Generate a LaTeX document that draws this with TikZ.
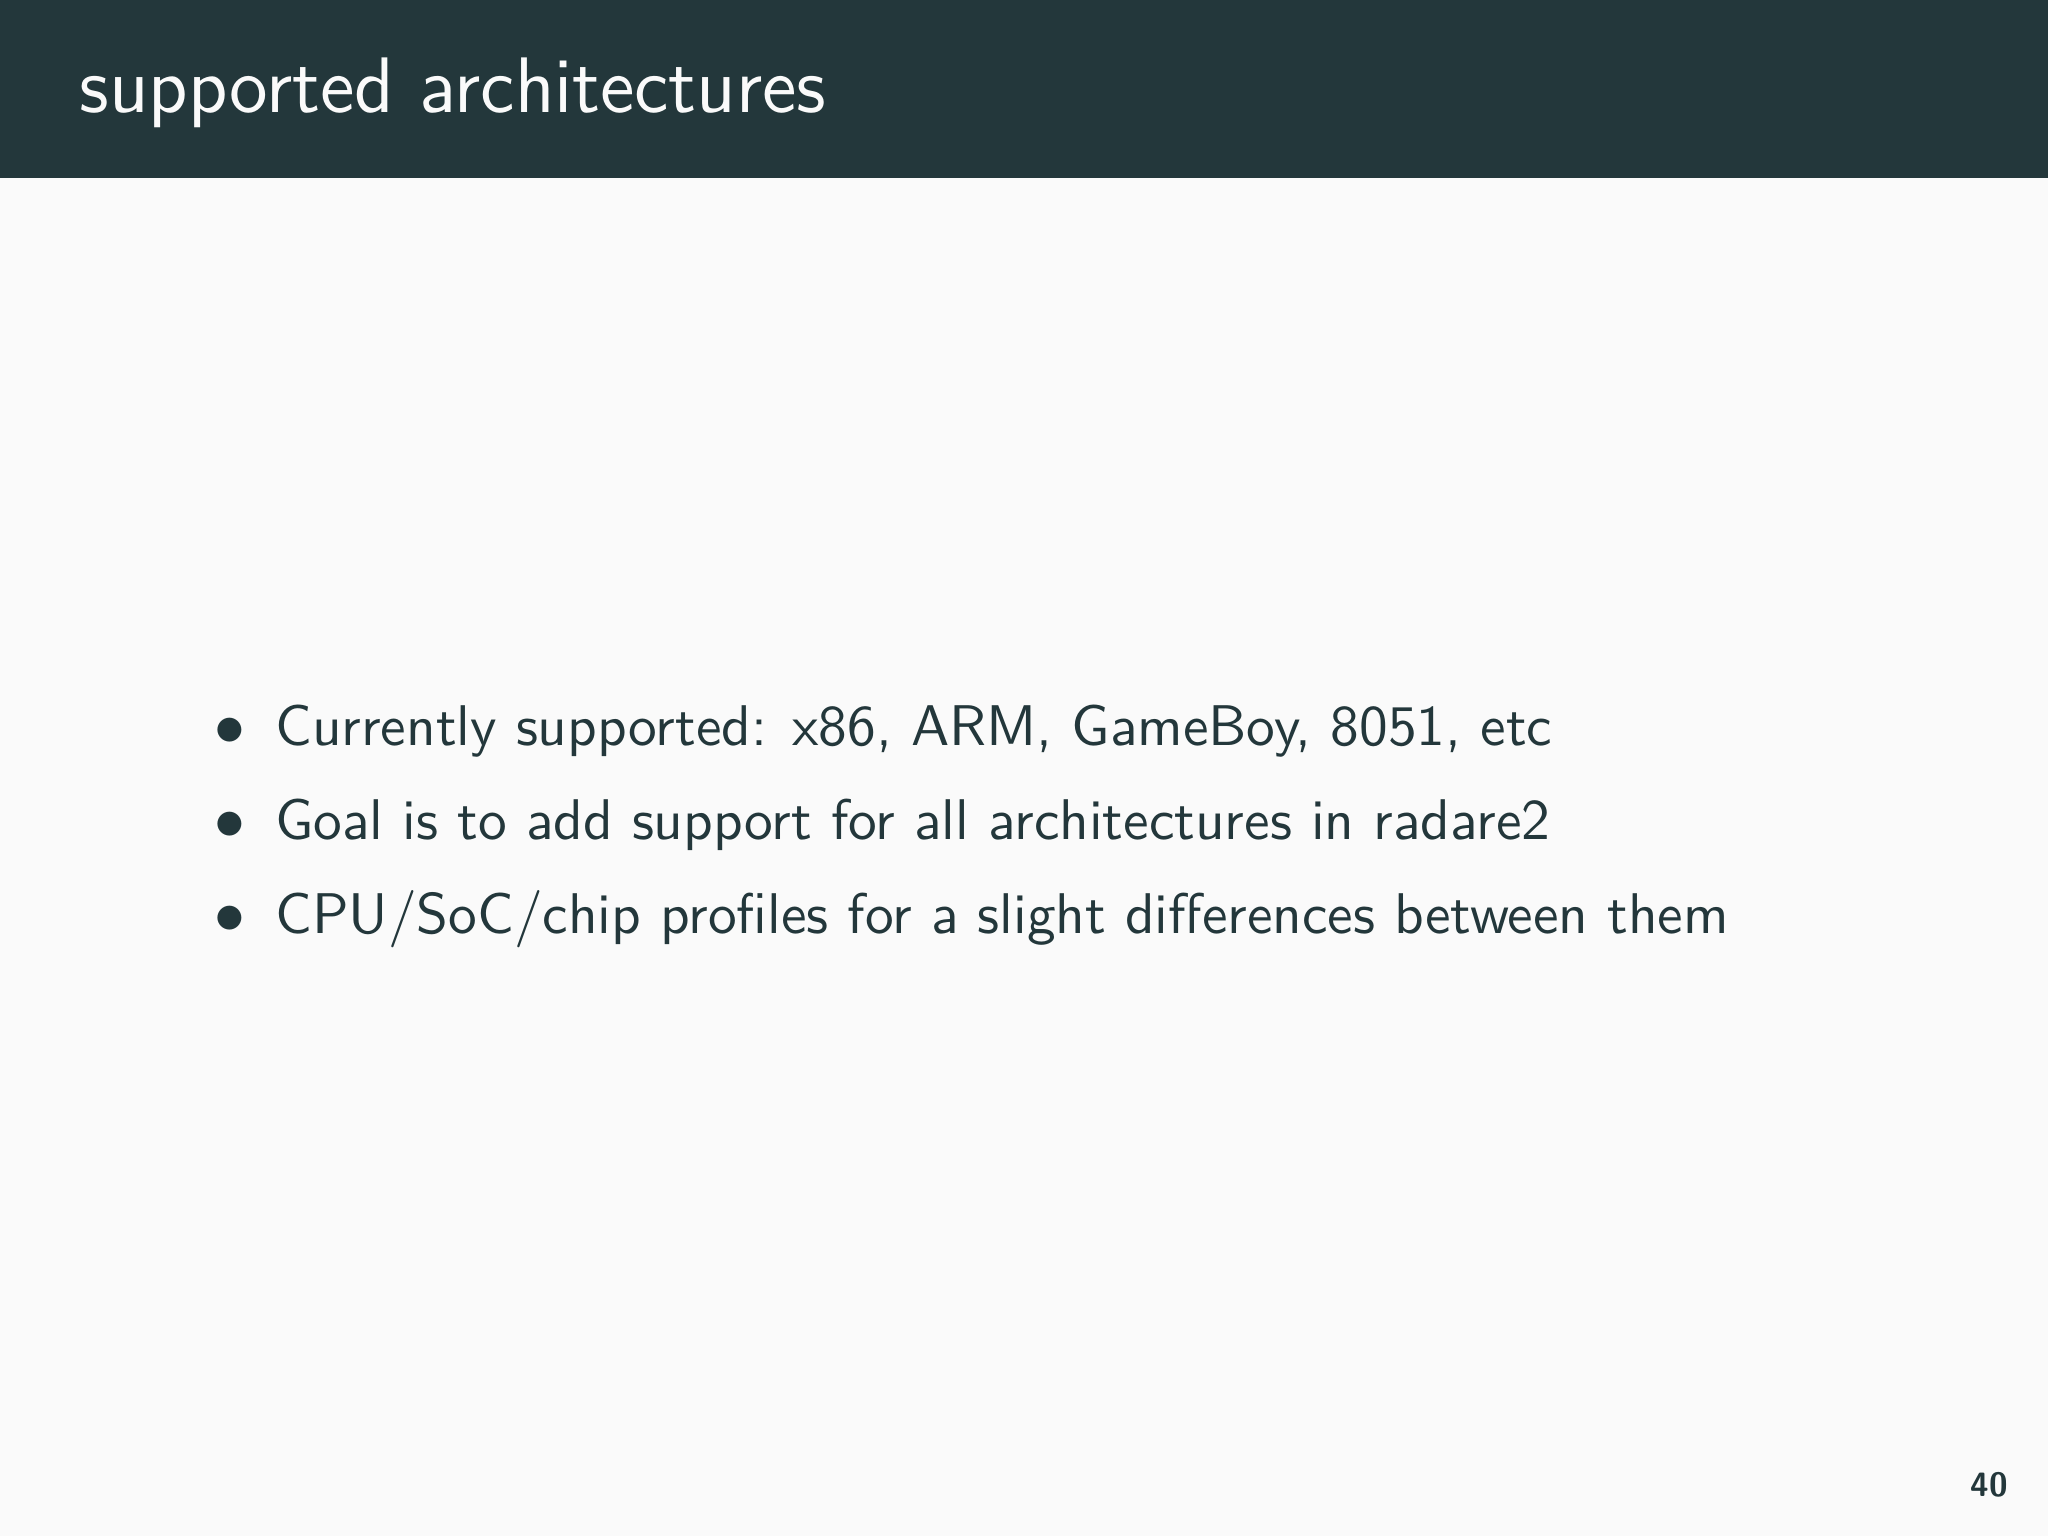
\documentclass[tikz,border=0pt]{standalone}
\definecolor{mDark}{HTML}{23373B}
\definecolor{mBg}{HTML}{FAFAFA}
\tikzset{body/.style={anchor=base west,inner sep=0pt,text=mDark,font=\sffamily\fontsize{10.2}{12}\selectfont},
bul/.style={anchor=base,inner sep=0pt,text=mDark,font=\fontsize{10.5}{12}\selectfont}}
\begin{document}
\begin{tikzpicture}[x=0.008163cm,y=-0.008163cm]
\fill[mBg] (0,0) rectangle (1568,1176);
\useasboundingbox (0,0) rectangle (1568,1176);
\fill[mDark] (0,0) rectangle (1568,136);
\node[anchor=base west,inner sep=0pt,text=mBg,font=\sffamily\fontsize{14}{17}\selectfont] (title) at (60,86) {supported architectures};
\node[bul] (b1) at (176,571) {$\bullet$};
\node[body] (t1) at (210,571) {Currently supported: x86, ARM, GameBoy, 8051, etc};
\node[bul] (b2) at (176,643) {$\bullet$};
\node[body] (t2) at (210,643) {Goal is to add support for all architectures in radare2};
\node[bul] (b3) at (176,715) {$\bullet$};
\node[body] (t3) at (210,715) {CPU/SoC/chip profiles for a slight differences between them};
\node[anchor=base east,inner sep=0pt,text=mDark,font=\fontsize{6}{7}\selectfont] (pg) at (1538,1146) {\textsf{\textbf{40}}};
\end{tikzpicture}
\end{document}
